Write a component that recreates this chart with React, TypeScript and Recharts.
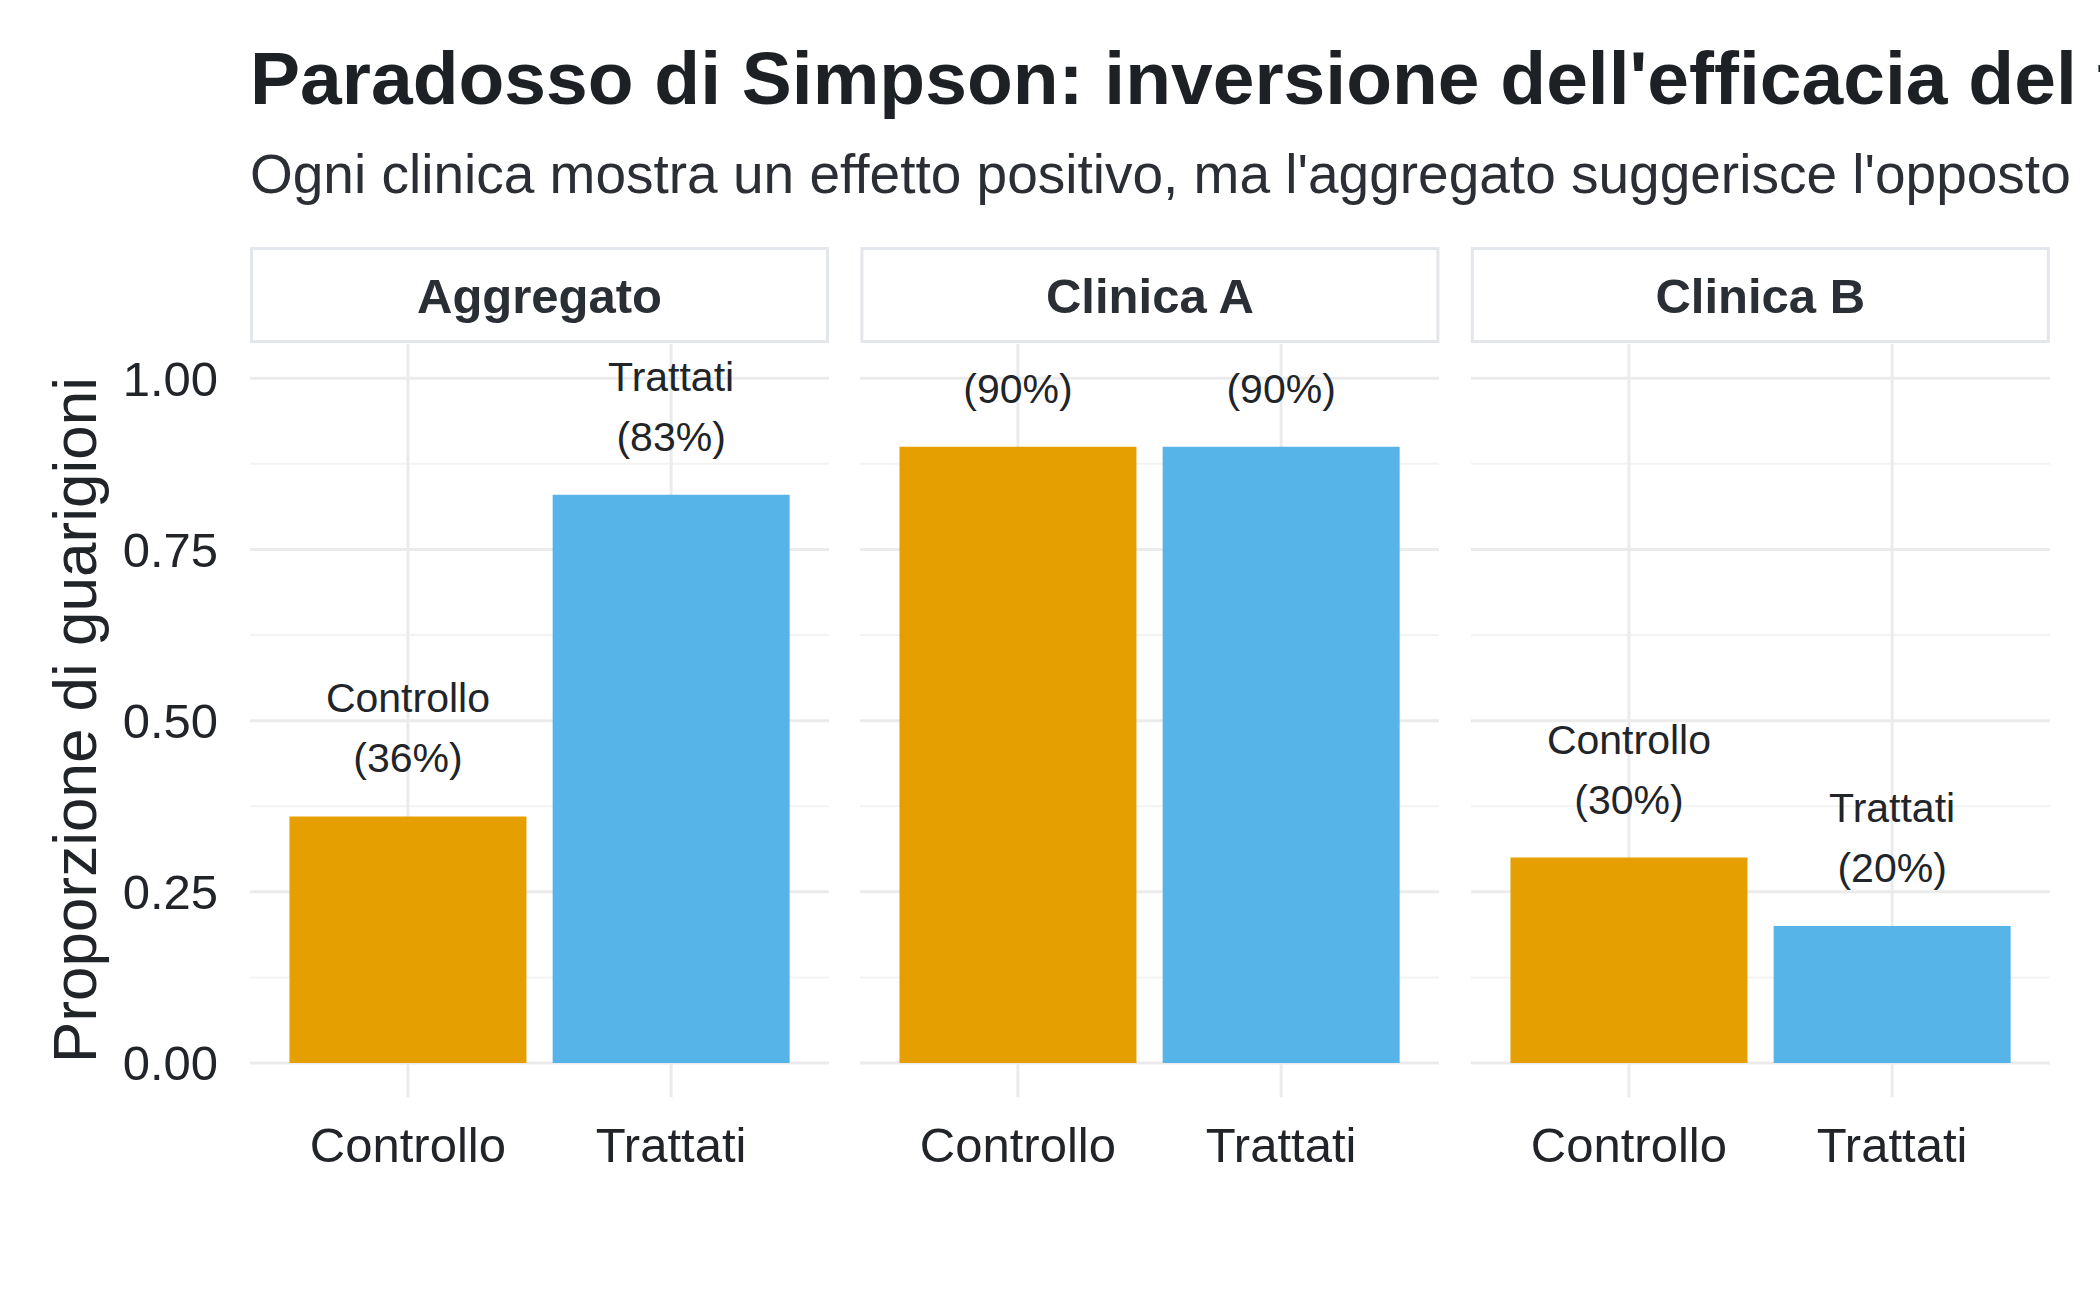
import React from "react";
import { BarChart, Bar, XAxis, YAxis, CartesianGrid, Cell, LabelList } from "recharts";

const groups = ["Controllo", "Trattati"];
const panelNames = ["Aggregato", "Clinica A", "Clinica B"];
const aggregato = [0.36, 0.83];
const clinicaA = [0.9, 0.9];
const clinicaB = [0.3, 0.2];
const yTicks = [0, 0.25, 0.5, 0.75, 1];
const yMinor = [0.125, 0.375, 0.625, 0.875];
const groupColors = ["#E69F00", "#56B4E9"];

const panelValues = [aggregato, clinicaA, clinicaB];

const FONT = "'Liberation Sans', Arial, Helvetica, sans-serif";
const TEXT = "#212428";

// layout (px)
const PANEL_LEFT = 250;
const PANEL_STEP = 610.4;
const PANEL_W = 579;
const PLOT_TOP = 343.75;
const PLOT_H = 753.25;
const XAXIS_H = 120;
const YAXIS_W = 200;

function BarLabel(props: any) {
  const { x, y, width, value } = props;
  if (value == null) return null;
  const lines = String(value).split("\n");
  const cx = Number(x) + Number(width) / 2;
  const base = Number(y) - 44;
  const lh = 60;
  return (
    <g>
      {lines.map((ln, i) => {
        const by = base - (lines.length - 1 - i) * lh;
        // mimic panel clipping: drop lines that fall above the panel
        if (by - 15 < 0) return null;
        return (
          <text key={i} x={cx} y={by} textAnchor="middle" fontSize={41} fill={TEXT}>
            {ln}
          </text>
        );
      })}
    </g>
  );
}

function Panel({ idx }: { idx: number }) {
  const vals = panelValues[idx];
  const data = groups.map((g, i) => ({
    group: g,
    value: vals[i],
    label: `${g}\n(${Math.round(vals[i] * 100)}%)`,
  }));
  const first = idx === 0;
  const left = PANEL_LEFT + idx * PANEL_STEP - (first ? YAXIS_W : 0);
  const w = PANEL_W + (first ? YAXIS_W : 0);
  return (
    <div style={{ position: "absolute", left, top: PLOT_TOP }}>
      <BarChart
        width={w}
        height={PLOT_H + XAXIS_H}
        data={data}
        margin={{ top: 0, right: 0, bottom: 0, left: 0 }}
        barCategoryGap="5%"
      >
        <CartesianGrid
          horizontalValues={yMinor}
          vertical={false}
          syncWithTicks
          stroke="#F3F3F3"
          strokeWidth={2}
        />
        <CartesianGrid syncWithTicks stroke="#EBEBEB" strokeWidth={3} />
        <XAxis
          dataKey="group"
          tickLine={false}
          axisLine={false}
          tickSize={0}
          tickMargin={30}
          height={XAXIS_H}
          padding={{ left: 26.3, right: 26.3 }}
          tick={{ fontSize: 49, fill: TEXT }}
          interval={0}
        />
        <YAxis
          type="number"
          domain={[-0.05, 1.05]}
          allowDataOverflow
          ticks={yTicks}
          tickFormatter={(v: number) => v.toFixed(2)}
          tickLine={false}
          axisLine={false}
          tickSize={0}
          tickMargin={32}
          width={first ? YAXIS_W : 0}
          hide={!first}
          tick={{ fontSize: 49, fill: TEXT }}
        />
        <Bar dataKey="value" isAnimationActive={false}>
          {data.map((d, i) => (
            <Cell key={d.group} fill={groupColors[i]} />
          ))}
          <LabelList dataKey="label" content={BarLabel} />
        </Bar>
      </BarChart>
    </div>
  );
}

export default function App() {
  return (
    <div
      style={{
        position: "absolute",
        left: 0,
        top: 0,
        width: 2100,
        height: 1297,
        overflow: "hidden",
        background: "#ffffff",
        fontFamily: FONT,
      }}
    >
      {panelNames.map((_, i) => (
        <Panel key={i} idx={i} />
      ))}
      <svg
        width={2100}
        height={1297}
        style={{ position: "absolute", left: 0, top: 0, pointerEvents: "none" }}
      >
        <text x={250} y={104} fontSize={75} fontWeight="bold" fill="#1d2024">
          Paradosso di Simpson: inversione dell'efficacia del trattamento
        </text>
        <text x={250} y={193} fontSize={55} fill="#2b2f35">
          Ogni clinica mostra un effetto positivo, ma l'aggregato suggerisce l'opposto
        </text>
        <text
          x={0}
          y={0}
          fontSize={62}
          fill={TEXT}
          textAnchor="middle"
          transform="translate(96,720) rotate(-90)"
        >
          Proporzione di guarigioni
        </text>
        {panelNames.map((name, i) => {
          const x0 = PANEL_LEFT + i * PANEL_STEP;
          return (
            <g key={name}>
              <rect
                x={x0 + 1.5}
                y={248.5}
                width={PANEL_W - 3}
                height={93}
                fill="#ffffff"
                stroke="#E3E6EA"
                strokeWidth={3}
              />
              <text
                x={x0 + PANEL_W / 2}
                y={313}
                fontSize={49}
                fontWeight="bold"
                fill="#2a2e35"
                textAnchor="middle"
              >
                {name}
              </text>
            </g>
          );
        })}
      </svg>
    </div>
  );
}
